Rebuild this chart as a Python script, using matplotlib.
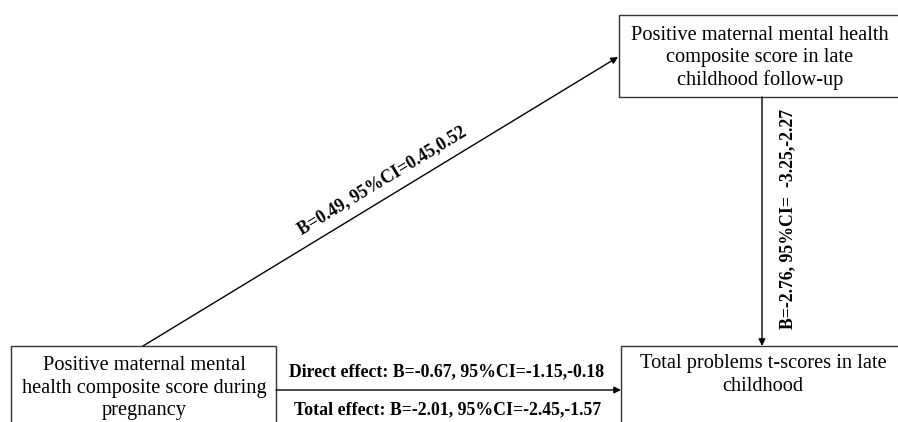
import matplotlib.pyplot as plt
from matplotlib.patches import Rectangle

# node labels
x_label = "Positive maternal mental\nhealth composite score during\npregnancy"
m_label = "Positive maternal mental health\ncomposite score in late\nchildhood follow-up"
y_label = "Total problems t-scores in late\nchildhood"

# path coefficients
a_path = "B=0.49, 95%CI=0.45,0.52"
b_path = "B=-2.76, 95%CI=  -3.25,-2.27"
direct = "Direct effect: B=-0.67, 95%CI=-1.15,-0.18"
total = "Total effect: B=-2.01, 95%CI=-2.45,-1.57"

plt.rcParams['font.family'] = ['Liberation Serif', 'DejaVu Serif']

fig = plt.figure(figsize=(8.98, 4.22), dpi=100)
ax = fig.add_axes([0, 0, 1, 1])
ax.set_xlim(0, 898)
ax.set_ylim(422, 0)
ax.axis('off')

# boxes (x0, y0, w, h) in pixel space
boxes = {
    'x': (11, 346, 265, 100),
    'm': (619, 15, 300, 82),
    'y': (621, 346, 300, 100),
}
for k, (bx, by, bw, bh) in boxes.items():
    ax.add_patch(Rectangle((bx, by), bw, bh, fill=False, ec='#333333', lw=1.0))

fs = 14.7
ax.text(144, 388, x_label, ha='center', va='center', fontsize=fs, linespacing=1.27)
ax.text(760, 58, m_label, ha='center', va='center', fontsize=fs, linespacing=1.22)
ax.text(763, 375, y_label, ha='center', va='center', fontsize=fs, linespacing=1.27)

arrow = dict(arrowstyle='-|>', color='black', lw=1.0, mutation_scale=10, shrinkA=0, shrinkB=0)
ax.annotate('', xy=(618, 57), xytext=(143, 346), arrowprops=arrow)
ax.annotate('', xy=(762, 346), xytext=(762, 97), arrowprops=arrow)
ax.annotate('', xy=(621, 390), xytext=(276, 390), arrowprops=arrow)

bfs = 12.8
ax.text(382, 181, a_path, ha='center', va='center', rotation=31.2,
        rotation_mode='anchor', fontsize=bfs, fontweight='bold')
ax.text(788, 219, b_path, ha='center', va='center', rotation=90,
        fontsize=bfs, fontweight='bold')
ax.text(447, 372, direct, ha='center', va='center', fontsize=bfs, fontweight='bold')
ax.text(448, 410, total, ha='center', va='center', fontsize=bfs, fontweight='bold')

fig.savefig('out.png', dpi=100)
